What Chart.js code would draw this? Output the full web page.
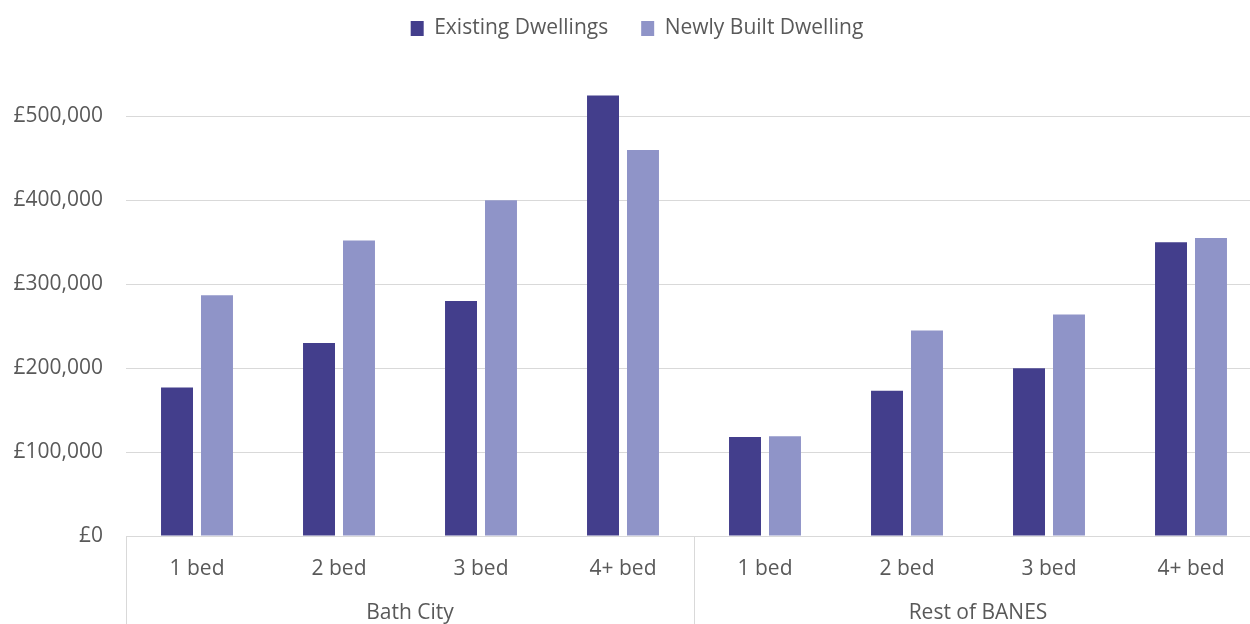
<!DOCTYPE html>
<html>
<head>
<meta charset="utf-8">
<script src="https://cdn.jsdelivr.net/npm/chart.js@4.4.0/dist/chart.umd.min.js"></script>
<style>
  html, body { margin: 0; padding: 0; background: #fff; overflow: hidden; }
  #wrap { width: 1262px; height: 624px; position: relative; }
</style>
</head>
<body>
<div id="wrap"><canvas id="c"></canvas></div>
<script>
// Average dwelling prices by size, Bath City vs the rest of BANES
const groups = ['Bath City', 'Rest of BANES'];
const bedrooms = ['1 bed', '2 bed', '3 bed', '4+ bed'];
const categories = ['1 bed', '2 bed', '3 bed', '4+ bed', '1 bed', '2 bed', '3 bed', '4+ bed'];
const existingDwellings = [177000, 230000, 280000, 525000, 118000, 173000, 200000, 350000];
const newlyBuiltDwelling = [287000, 352000, 400000, 460000, 119000, 245000, 264000, 355000];
const yTicks = [0, 100000, 200000, 300000, 400000, 500000];

const TEXT = '#595959';
const GRID = '#d9d9d9';
const FONT = { family: "'Open Sans', 'Noto Sans', sans-serif", size: 21 };

// Fixed legend band height so the plot area starts at a steady position
const legendBand = {
  id: 'legendBand',
  beforeInit(chart) {
    const legend = chart.legend;
    const fit = legend.fit;
    legend.fit = function () {
      fit.call(this);
      this.height = 81;
    };
  }
};

// Vertical separators between the two area groups, drawn through the axis band
const groupDividers = {
  id: 'groupDividers',
  afterDraw(chart) {
    const x = chart.scales.x;
    const ctx = chart.ctx;
    const per = bedrooms.length;
    ctx.save();
    ctx.strokeStyle = GRID;
    ctx.lineWidth = 1;
    for (let i = 0; i <= groups.length; i++) {
      const px = Math.round(x.getPixelForValue(i * per - 0.5)) + 0.5;
      ctx.beginPath();
      ctx.moveTo(px, x.top);
      ctx.lineTo(px, chart.height);
      ctx.stroke();
    }
    ctx.restore();
  }
};

new Chart(document.getElementById('c'), {
  type: 'bar',
  data: {
    labels: categories,
    datasets: [
      {
        label: 'Existing Dwellings',
        data: existingDwellings,
        backgroundColor: '#433E8C',
        categoryPercentage: 0.563,
        barPercentage: 0.8
      },
      {
        label: 'Newly Built Dwelling',
        data: newlyBuiltDwelling,
        backgroundColor: '#8F94C8',
        categoryPercentage: 0.563,
        barPercentage: 0.8
      }
    ]
  },
  options: {
    responsive: true,
    maintainAspectRatio: false,
    animation: false,
    devicePixelRatio: 1,
    layout: { padding: { left: 12, right: 0, top: -15, bottom: 0 } },
    plugins: {
      legend: {
        position: 'top',
        labels: {
          color: TEXT,
          font: FONT,
          boxWidth: 13,
          boxHeight: 15,
          padding: 33
        }
      },
      tooltip: { enabled: false }
    },
    scales: {
      y: {
        min: 0,
        max: 560000,
        ticks: {
          stepSize: 100000,
          color: TEXT,
          font: FONT,
          padding: 23,
          callback: v => '£' + Number(v).toLocaleString('en-GB')
        },
        afterBuildTicks: scale => {
          scale.ticks = yTicks.map(v => ({ value: v }));
        },
        grid: { color: GRID, drawTicks: false },
        border: { display: false },
        afterFit: scale => { scale.width = 114; }
      },
      x: {
        ticks: { color: TEXT, font: FONT, padding: 20, maxRotation: 0, autoSkip: false },
        grid: { display: false, drawTicks: false },
        border: { display: true, color: GRID },
        afterFit: scale => { scale.height = 44; }
      },
      group: {
        type: 'category',
        position: 'bottom',
        labels: groups,
        offset: true,
        ticks: { color: TEXT, font: FONT, padding: 20, maxRotation: 0 },
        grid: { display: false, drawTicks: false },
        border: { display: false },
        afterFit: scale => { scale.height = 44; }
      }
    }
  },
  plugins: [legendBand, groupDividers]
});
</script>
</body>
</html>
